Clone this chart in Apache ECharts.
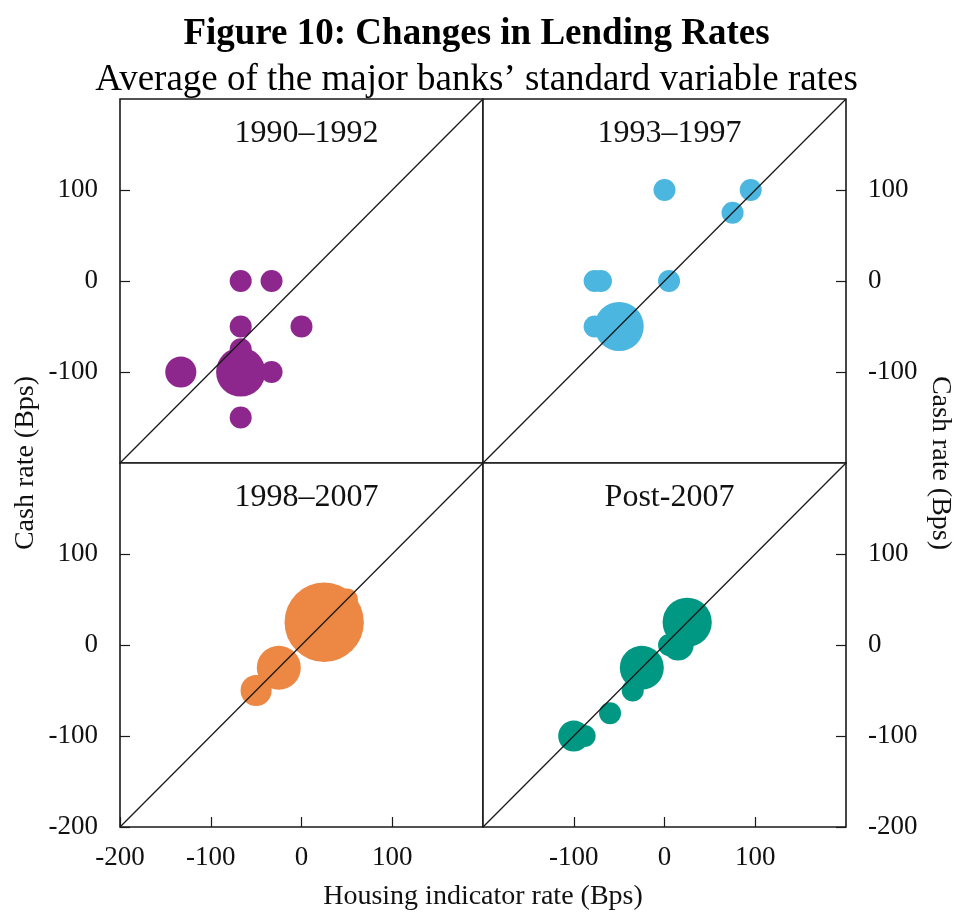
<!DOCTYPE html>
<html>
<head>
<meta charset="utf-8">
<script src="https://cdn.jsdelivr.net/npm/echarts@6/dist/echarts.min.js"></script>
<style>
  html, body { margin: 0; padding: 0; background: #fff; }
  #chart { width: 953px; height: 913px; }
</style>
</head>
<body>
<div id="chart"></div>
<script>
// [housing indicator change, cash rate change, number of episodes]
const panelNames = ['1990–1992', '1993–1997', '1998–2007', 'Post-2007']
const p1990 = [[-67, 0, 1], [-33, 0, 1], [-67, -50, 1], [0, -50, 1], [-67, -75, 1],
  [-67, -100, 5], [-33, -100, 1], [-133, -100, 2], [-67, -150, 1]]
const p1993 = [[0, 100, 1], [95, 100, 1], [75, 75, 1], [-77, 0, 1], [-70, 0, 1],
  [5, 0, 1], [-77, -50, 1], [-50, -50, 5]]
const p1998 = [[50, 50, 1], [25, 25, 13], [-25, -25, 4], [-50, -50, 2]]
const pPost = [[25, 25, 5], [15, 0, 2], [5, 0, 1], [-25, -25, 4], [-35, -50, 1],
  [-60, -75, 1], [-100, -100, 2], [-88, -100, 1]]
const panelData = [p1990, p1993, p1998, pPost]
const colors = ['#8e278d', '#4bb6df', '#ec8744', '#009883']
const diagonal = [[-200, -200], [200, 200]]

const font = 'Liberation Serif, Times New Roman, serif'
const chart = echarts.init(document.getElementById('chart'))

// panel boxes (px)
const boxes = [
  { left: 120, top: 99 }, { left: 483, top: 99 },
  { left: 120, top: 463 }, { left: 483, top: 463 }
]

const grids = boxes.map(b => ({
  left: b.left, top: b.top, width: 363, height: 364,
  show: true, borderColor: '#1a1a1a', borderWidth: 1.6, backgroundColor: '#fff'
}))

const tickStyle = { color: '#1a1a1a', width: 1.2 }

const xAxes = boxes.map((b, i) => ({
  gridIndex: i, type: 'value', min: -200, max: 200, interval: 100,
  splitLine: { show: false },
  axisLine: { show: false, onZero: false },
  axisTick: { show: i >= 2, inside: true, length: 10, lineStyle: tickStyle },
  axisLabel: {
    show: i >= 2, margin: 17, color: '#111', fontFamily: font, fontSize: 27,
    showMinLabel: i === 2, showMaxLabel: false
  }
}))

const yAxes = boxes.map((b, i) => ({
  gridIndex: i, type: 'value', min: -200, max: 200, interval: 100,
  position: i % 2 === 0 ? 'left' : 'right',
  splitLine: { show: false },
  axisLine: { show: false, onZero: false },
  axisTick: { show: true, inside: true, length: 10, lineStyle: tickStyle },
  axisLabel: {
    margin: 22, color: '#111', fontFamily: font, fontSize: 27,
    showMinLabel: i >= 2, showMaxLabel: false
  }
}))

const series = []
panelData.forEach((d, i) => {
  series.push({
    type: 'scatter', xAxisIndex: i, yAxisIndex: i, data: d,
    symbolSize: v => 22 * Math.sqrt(v[2]),
    itemStyle: { color: colors[i], opacity: 1 },
    z: 2
  })
  series.push({
    type: 'line', xAxisIndex: i, yAxisIndex: i, data: diagonal,
    symbol: 'none', lineStyle: { color: '#1a1a1a', width: 1.3 },
    z: 3, silent: true
  })
})

chart.setOption({
  animation: false,
  title: [
    { text: 'Figure 10: Changes in Lending Rates', left: 'center', top: 11,
      textStyle: { fontFamily: font, fontSize: 37, fontWeight: 'bold', color: '#000' } },
    { text: 'Average of the major banks’ standard variable rates', left: 'center', top: 57,
      textStyle: { fontFamily: font, fontSize: 37, fontWeight: 'normal', color: '#000' } }
  ].concat(boxes.map((b, i) => ({
    text: panelNames[i], left: b.left + 181.5, top: b.top + 14, textAlign: 'center',
    textStyle: { fontFamily: font, fontSize: 32, fontWeight: 'normal', color: '#111' }
  }))),
  grid: grids,
  xAxis: xAxes,
  yAxis: yAxes,
  series: series,
  graphic: [
    { type: 'text', x: 483, y: 897,
      style: { text: 'Housing indicator rate (Bps)', font: '28px ' + font, fill: '#111', align: 'center', verticalAlign: 'middle' } },
    { type: 'text', x: 26, y: 463, rotation: Math.PI / 2,
      style: { text: 'Cash rate (Bps)', font: '28px ' + font, fill: '#111', align: 'center', verticalAlign: 'middle' } },
    { type: 'text', x: 940, y: 463, rotation: -Math.PI / 2,
      style: { text: 'Cash rate (Bps)', font: '28px ' + font, fill: '#111', align: 'center', verticalAlign: 'middle' } }
  ]
})
</script>
</body>
</html>
